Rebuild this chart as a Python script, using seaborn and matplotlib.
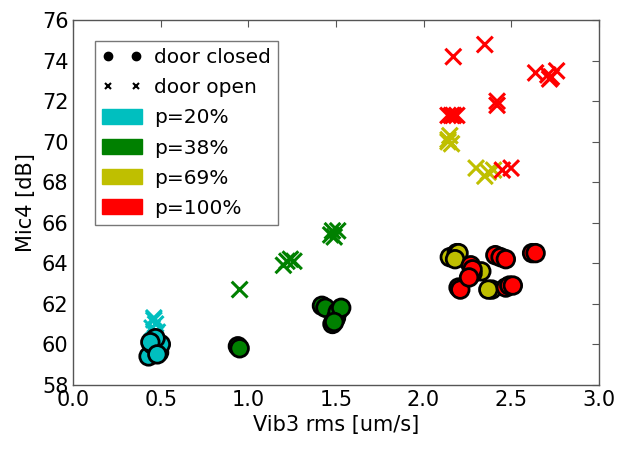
import numpy as np
import pandas as pd
import seaborn as sns
import matplotlib
matplotlib.use("Agg")
import matplotlib.pyplot as plt
from matplotlib.lines import Line2D
from matplotlib.patches import Patch

# pressure levels and their colours (classic matplotlib single-letter colours)
levels = ["p=20%", "p=38%", "p=69%", "p=100%"]
palette = {"p=20%": (0, 0.75, 0.75), "p=38%": (0, 0.5, 0),
           "p=69%": (0.75, 0.75, 0), "p=100%": (1, 0, 0)}

# door closed
c20_x = [0.43, 0.49, 0.45, 0.50, 0.47, 0.44, 0.48]
c20_y = [59.4, 59.6, 60.0, 60.0, 60.3, 60.1, 59.5]
c38_x = [0.94, 0.95, 1.42, 1.44, 1.48, 1.50, 1.51, 1.53, 1.49]
c38_y = [59.9, 59.8, 61.9, 61.8, 61.0, 61.3, 61.6, 61.8, 61.1]
c69_x = [2.15, 2.19, 2.20, 2.18, 2.33, 2.39, 2.37]
c69_y = [64.3, 64.5, 64.5, 64.2, 63.6, 62.7, 62.7]
c100_x = [2.20, 2.21, 2.27, 2.28, 2.28, 2.26, 2.41, 2.44, 2.47,
          2.47, 2.49, 2.51, 2.62, 2.64]
c100_y = [62.8, 62.7, 63.9, 63.5, 63.7, 63.3, 64.4, 64.3, 64.2,
          62.8, 62.9, 62.9, 64.5, 64.5]

# door open
o20_x = [0.46, 0.47, 0.45, 0.48, 0.46, 0.47]
o20_y = [61.2, 61.0, 60.8, 60.6, 61.3, 60.5]
o38_x = [0.95, 1.20, 1.22, 1.24, 1.26, 1.47, 1.48, 1.49, 1.51]
o38_y = [62.7, 63.9, 64.1, 64.2, 64.1, 65.4, 65.6, 65.3, 65.6]
o69_x = [2.14, 2.15, 2.16, 2.14, 2.30, 2.35, 2.37, 2.40]
o69_y = [70.1, 70.3, 69.9, 70.0, 68.7, 68.3, 68.5, 68.6]
o100_x = [2.17, 2.35, 2.14, 2.16, 2.17, 2.19, 2.42, 2.42, 2.45, 2.50,
          2.64, 2.71, 2.72, 2.73, 2.76]
o100_y = [74.2, 74.8, 71.3, 71.3, 71.3, 71.3, 72.0, 71.8, 68.6, 68.7,
          73.4, 73.3, 73.1, 73.2, 73.5]

closed_x = [c20_x, c38_x, c69_x, c100_x]
closed_y = [c20_y, c38_y, c69_y, c100_y]
open_x = [o20_x, o38_x, o69_x, o100_x]
open_y = [o20_y, o38_y, o69_y, o100_y]

rows = []
for lev, xs, ys in zip(levels, closed_x, closed_y):
    rows += [(x, y, lev, "door closed") for x, y in zip(xs, ys)]
df_closed = pd.DataFrame(rows, columns=["x", "y", "level", "door"])
rows = []
for lev, xs, ys in zip(levels, open_x, open_y):
    rows += [(x, y, lev, "door open") for x, y in zip(xs, ys)]
df_open = pd.DataFrame(rows, columns=["x", "y", "level", "door"])

sns.set_style("white")
plt.rcParams["font.family"] = ["DejaVu Sans"]
plt.rcParams["text.color"] = "black"
plt.rcParams["axes.labelcolor"] = "black"
plt.rcParams["xtick.color"] = "black"
plt.rcParams["ytick.color"] = "black"

fig = plt.figure(figsize=(6.21, 4.5), dpi=100)
ax = fig.add_axes([0.118, 0.145, 0.846, 0.81])

sns.scatterplot(data=df_open, x="x", y="y", hue="level", palette=palette,
                marker="x", s=130, linewidth=2.2, legend=False, ax=ax)
sns.scatterplot(data=df_closed, x="x", y="y", hue="level", palette=palette,
                marker="o", s=160, edgecolor="black", linewidth=2,
                legend=False, ax=ax)

ax.set_xlim(0, 3)
ax.set_ylim(58, 76)
ax.set_xticks(np.arange(0, 3.01, 0.5))
ax.set_yticks(np.arange(58, 76.1, 2))
ax.set_xlabel("Vib3 rms [um/s]", fontsize=15)
ax.set_ylabel("Mic4 [dB]", fontsize=15)
ax.tick_params(direction="in", top=True, right=True, length=5,
               labelsize=15, color="#555555")
for sp in ax.spines.values():
    sp.set_color("#555555")
    sp.set_linewidth(1)

handles = [Line2D([], [], color="black", marker="o", linestyle="none",
                  markersize=6),
           Line2D([], [], color="black", marker="x", linestyle="none",
                  markersize=5, markeredgewidth=1.5)]
handles += [Patch(color=palette[l]) for l in levels]
labels = ["door closed", "door open"] + levels
leg = ax.legend(handles, labels, loc="upper left", numpoints=2,
                fontsize=14.5, fancybox=False, frameon=True,
                handlelength=2.0, handleheight=0.8, borderpad=0.35,
                labelspacing=0.55, handletextpad=0.6,
                bbox_to_anchor=(0.022, 0.97))
leg.get_frame().set_edgecolor("#555555")

fig.savefig("out.png", dpi=100)
